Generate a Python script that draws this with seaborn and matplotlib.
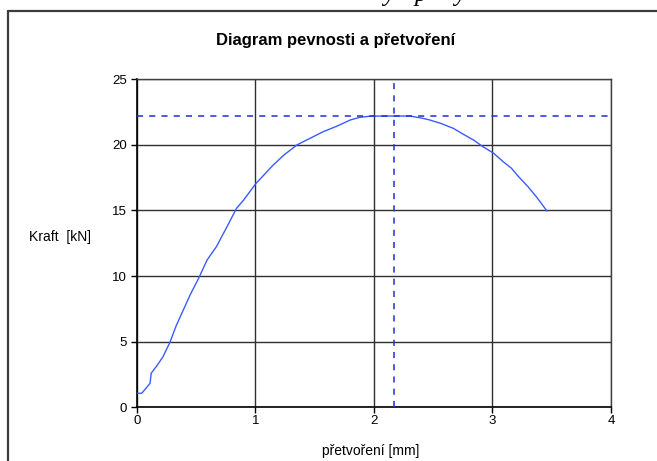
import matplotlib
matplotlib.use("Agg")
import matplotlib.pyplot as plt
from matplotlib.lines import Line2D
import seaborn as sns
import pandas as pd

# data
deformation = [0.00, 0.04, 0.08, 0.11, 0.12, 0.17, 0.22, 0.28, 0.33, 0.39, 0.45, 0.52,
               0.59, 0.62, 0.67, 0.75, 0.84, 0.90, 1.00, 1.07, 1.15, 1.24, 1.35, 1.46,
               1.57, 1.69, 1.80, 1.88, 1.96, 2.05, 2.20, 2.30, 2.40, 2.47, 2.56, 2.67,
               2.75, 2.84, 2.92, 3.01, 3.09, 3.16, 3.22, 3.30, 3.37, 3.46]
force = [1.07, 1.07, 1.50, 1.83, 2.60, 3.20, 3.86, 5.00, 6.20, 7.40, 8.60, 9.83,
         11.20, 11.60, 12.24, 13.60, 15.17, 15.80, 17.02, 17.70, 18.47, 19.23, 20.00, 20.50,
         21.00, 21.44, 21.90, 22.10, 22.18, 22.20, 22.20, 22.20, 22.05, 21.90, 21.65, 21.26,
         20.83, 20.37, 19.86, 19.36, 18.72, 18.22, 17.58, 16.81, 16.05, 14.96]
peak_x = 2.166
peak_y = 22.2
x_ticks = [0, 1, 2, 3, 4]
y_ticks = [0, 5, 10, 15, 20, 25]

sns.set_theme(style="white")
plt.rcParams["font.family"] = ["Liberation Sans", "DejaVu Sans"]

fig = plt.figure(figsize=(6.57, 4.61), dpi=100)
ax = fig.add_axes([137 / 657, 1 - 407.3 / 461, 474 / 657, 328 / 461])

df = pd.DataFrame({"x": deformation, "y": force})
sns.lineplot(data=df, x="x", y="y", ax=ax, sort=False, estimator=None,
             color="#3a5cff", linewidth=1.0, zorder=3)

ax.axhline(peak_y, color="#1f2fd6", linestyle=(0, (4, 4)), linewidth=1.1, zorder=4)
ax.axvline(peak_x, color="#1f2fd6", linestyle=(0, (4, 4)), linewidth=1.1, zorder=4)

ax.set_xlim(0, 4)
ax.set_ylim(0, 25)
ax.set_xticks(x_ticks)
ax.set_yticks(y_ticks)
ax.grid(True, color="#303030", linewidth=1.0)
ax.set_axisbelow(True)
for side in ["left", "bottom"]:
    ax.spines[side].set_color("#000000")
    ax.spines[side].set_linewidth(1.2)
for side in ["top", "right"]:
    ax.spines[side].set_color("#404040")
    ax.spines[side].set_linewidth(1.0)

ax.tick_params(axis="both", which="both", direction="out", length=4, width=1,
               color="#000000", labelsize=9.5, labelcolor="#000000")
ax.tick_params(axis="x", pad=1.5)
ax.tick_params(axis="y", pad=3)
ax.tick_params(left=True, bottom=True)

ax.set_xlabel("přetvoření [mm]", fontsize=10, color="#000000")
ax.xaxis.set_label_coords(0.494, -0.112)
ax.set_ylabel("Kraft  [kN]", fontsize=10, color="#000000", rotation=0,
              va="center", ha="center")
ax.yaxis.set_label_coords(-0.162, 0.519)

fig.text(336 / 657, 1 - 40 / 461, "Diagram pevnosti a přetvoření", ha="center",
         va="center", fontsize=12, fontweight="bold", color="#000000")

# frame of the embedding document
fig.add_artist(Line2D([8 / 657, 1.0], [1 - 11 / 461, 1 - 11 / 461],
                      transform=fig.transFigure, color="#3c3c3c", linewidth=1.6))
fig.add_artist(Line2D([8 / 657, 8 / 657], [0.0, 1 - 11 / 461],
                      transform=fig.transFigure, color="#3c3c3c", linewidth=1.6))

# cut-off line of document text above the frame
for cx, ch in [(389, "y"), (421, "p"), (460, "y")]:
    fig.text(cx / 657, 1 - 1.5 / 461, ch, ha="center", va="baseline",
             fontsize=18, family=["Liberation Serif"], style="italic", color="#000000")

fig.savefig("out.png", dpi=100)
